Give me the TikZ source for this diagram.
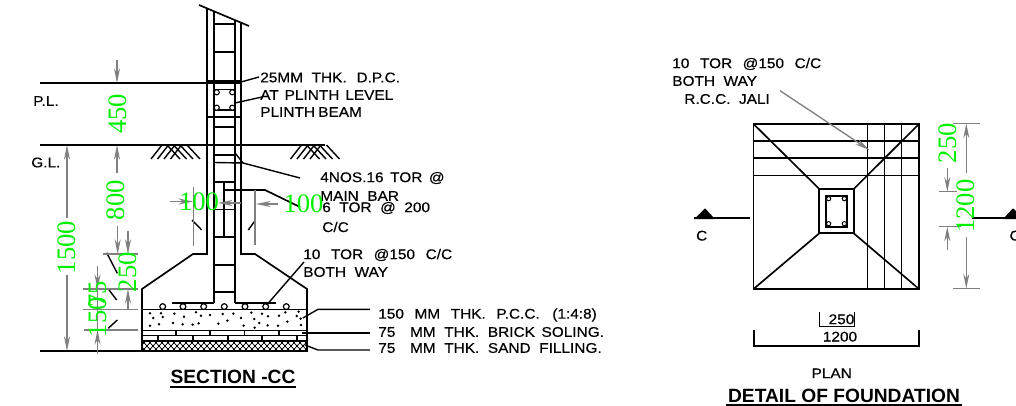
\documentclass[tikz,border=0pt]{standalone}
\usepackage{fontspec}
\setmainfont{Liberation Sans}
\newfontfamily\cadfont[WordSpace=2,FakeStretch=1.1,FakeBold=0.4]{Liberation Sans}
\newfontfamily\dimfont{Liberation Serif}
\usetikzlibrary{arrows.meta}
\definecolor{dimgrey}{HTML}{808080}
\definecolor{dimgreen}{HTML}{00F000}
\tikzset{
  obj/.style={line width=1.25pt,black,line join=miter},
  thin obj/.style={line width=1.05pt,black},
  dimline/.style={line width=1pt,dimgrey},
  dimarrow/.style={line width=1pt,dimgrey,-{Stealth[length=11pt,width=4.5pt]}},
  lab/.style={anchor=west,inner sep=0pt,font=\cadfont\fontsize{10.5}{12}\selectfont},
  plainlab/.style={anchor=center,inner sep=0pt,font=\cadfont\fontsize{10.5}{12}\selectfont},
  title/.style={anchor=center,inner sep=0pt,font=\bfseries\fontsize{14.4}{16}\selectfont},
  dimtxt/.style={anchor=center,inner sep=0pt,text=dimgreen,font=\dimfont\fontsize{20}{21}\selectfont},
}
\begin{document}
\begin{tikzpicture}[x=0.75pt,y=-0.75pt]
\clip (0,0) rectangle (1016,406);
\fill[white] (0,0) rectangle (1016,406);

% ---------- SECTION: levels ----------
\draw[obj] (40,83) -- (207,83);
\fill[black] (207,80) rectangle (241,84);
\draw[obj] (40,145) -- (325,145);
\draw[obj] (40,351) -- (142,351);

% ground hatch
\foreach \dx in {0,139.5}{
  \begin{scope}[xshift=\dx*0.75pt]
  \foreach \a in {162,168.5,175,181.5}
    \draw[thin obj] (\a,145) -- (\a-11,159);
  \foreach \a in {167,173.5,180,187}
    \draw[thin obj] (\a,145) -- (\a+13,159);
  \end{scope}
}

% wall
\draw[obj] (199,5) -- (249,26);
\draw[obj] (207,9) -- (207,254) -- (193,254) -- (142,289) -- (142,351) -- (307,351) -- (307,289) -- (255,254) -- (241,254) -- (241,23);
\draw[obj] (214,12) -- (214,302.5);
\draw[obj] (234.7,20) -- (234.7,302.5);
\foreach \y in {24,52,127,155,182,209.5,237,265,292}
  \draw[thin obj] (214,\y) -- (234.7,\y);
\draw[thin obj] (207,117) -- (241,117);

% plinth beam bars
\draw[thin obj] (214,89.5) -- (234.7,89.5);
\draw[thin obj] (214,110) -- (234.7,110);
\foreach \p in {(216.7,92.3),(232.3,92.3),(216.7,107.7),(232.3,107.7)}
  \draw[line width=0.8pt,fill=white] \p circle (2.6);

% footing layers
\draw[obj] (142,309.5) -- (307,309.5);
\draw[thin obj] (142,330.5) -- (307,330.5);
\draw[thin obj] (142,335.5) -- (307,335.5);
\draw[thin obj] (142,341) -- (307,341);
\foreach \x in {176,210,244.7,279}
  \draw[thin obj] (\x,330.5) -- (\x,335.5);
\foreach \x in {158,193,228,262,297}
  \draw[thin obj] (\x,335.5) -- (\x,341);

% sand filling
\begin{scope}
  \clip (142,341) rectangle (307,351);
  \foreach \i in {0,6,...,176}{
    \draw[line width=0.6pt] (135+\i,352.5) -- (135+\i+12,339.5);
    \draw[line width=0.6pt] (135+\i,339.5) -- (135+\i+12,352.5);
  }
\end{scope}
\draw[thin obj] (142,341) rectangle (307,351);

% P.C.C. aggregate
\foreach \X/\Y in {60/70,93/70,70/84,98/81,133/71,162/80,198/67,213/77,240/75,278/72,310/71,333/84,364/68,396/71,414/79,447/77,466/67,506/65,500/78,373/87,388/99,472/95,512/86,60/107,87/103,129/99,158/103,188/104,206/100,265/101,292/92,341/107,374/113,413/106,444/107,513/105}
  \fill ({130+\X/3},{290+\Y/3}) circle (1.4);

% main reinforcement
\draw[obj] (172,302.7) -- (214,302.7);
\draw[obj] (234.7,302.7) -- (276,302.7);
\foreach \x in {162.7,183,203.7,224.3,245,265.7,286.3}
  \draw[line width=0.9pt,fill=white] (\x,306.6) circle (2.9);

% stirrup bar in the footing column
\draw[obj] (224,182) -- (224,237);
\draw[obj] (224,190) -- (265,190) -- (300,207);

% black leaders
\draw[thin obj] (241,82) -- (259,77);
\draw[thin obj] (235,103) -- (262,97);
\draw[thin obj] (235,153) -- (243,163);
\draw[thin obj] (214,162.5) -- (243,163) -- (300,178);
\draw[thin obj] (304,262) -- (266.7,305);
\draw[thin obj] (370,309.3) -- (318,309.3) -- (303,318);
\draw[thin obj] (302,333) -- (370,333);
\draw[thin obj] (370,350) -- (318,350) -- (305,345);

% ticks on dimensions
\draw[thin obj] (106.7,252.7) -- (117.3,273.3);
\draw[thin obj] (108.3,289) -- (116.7,300);
\draw[thin obj] (117.3,320) -- (108.3,328.3);
\draw[thin obj] (192,220) -- (201.7,230);
\draw[thin obj] (248.3,230) -- (255,220.7);

% grey dimensions, section
\draw[dimarrow] (117,60) -- (117,83);
\draw[dimarrow] (117,173) -- (117,145);
\draw[dimarrow] (67,218) -- (67,145);
\draw[dimarrow] (67,275) -- (67,351);
\draw[dimline] (103,254) -- (138,254);
\draw[dimline] (83,289) -- (138,289);
\draw[dimline] (83,309.5) -- (138,309.5);
\draw[dimline] (84,330) -- (138,330);
\draw[dimarrow] (117.7,226) -- (117.7,254);
\draw[dimarrow] (128,231) -- (128,254);
\draw[dimarrow] (128,309) -- (128,289);
\draw[dimarrow] (97.5,266) -- (97.5,289);
\draw[dimarrow] (97.5,354) -- (97.5,330);
\draw[dimline] (97.5,289) -- (97.5,330);
\draw[dimline] (193.3,187) -- (193.3,246);
\draw[dimline] (255,190) -- (255,245);
\draw[dimarrow] (170,201.5) -- (193,201.5);
\draw[dimarrow] (241,203) -- (218,203);
\draw[dimarrow] (278,204) -- (256,204);

% labels, section
\node[lab] (pl) at (33,101) {P.L.};
\node[lab] (gl) at (31,162.5) {G.L.};
\node[lab] (dpc) at (260,77.5) {25MM THK.\hspace{1pt} D.P.C.};
\node[lab] (atpl) at (260,95) {AT\hspace{-2pt} PLINTH\hspace{-2pt} LEVEL};
\node[lab] (pbeam) at (260,112) {PLINTH\hspace{-4pt} BEAM};
\node[lab] (nos) at (320,178) {4NOS.16\hspace{-1.5pt} TOR\hspace{-1.5pt} @};
\node[lab] (mainb) at (320,196) {MAIN BAR};
\node[lab] (tor6) at (322,208) {6 TOR @ 200};
\node[lab] (cc6) at (322,227) {C/C};
\node[lab] (tor10) at (303,255) {10\hspace{1.5pt} TOR\hspace{1.5pt} @150\hspace{1.5pt} C/C};
\node[lab] (both) at (303,272) {BOTH WAY};
\node[lab] (pcc) at (378,315) {150\hspace{1.5pt} MM\hspace{1.5pt} THK.\hspace{1.5pt} P.C.C.\hspace{3pt} (1:4:8)};
\node[lab] (bsol) at (378,332) {75\hspace{11pt}MM THK. BRICK\hspace{-1.5pt} SOLING.};
\node[lab] (sand) at (378,348) {75\hspace{11pt}MM THK. SAND FILLING.};
\node[title] (secttl) at (233,377) {SECTION -CC};
\draw[line width=1.2pt] (170,387) -- (296,387);

% ---------- PLAN ----------
\draw[obj] (753.5,124) rectangle (919,289);
\foreach \y in {141,158,175.5}
  \draw[obj] (753.5,\y) -- (919,\y);
\foreach \x in {867.5,884.5,901.5}
  \draw[obj] (\x,124) -- (\x,289);
\draw[obj] (753.5,124) -- (819.3,189);
\draw[obj] (919,124) -- (853.7,189);
\draw[obj] (753.5,289) -- (819.3,233.3);
\draw[obj] (919,289) -- (853.7,233.3);
\draw[obj] (819.3,189) rectangle (853.7,233.3);
\draw[obj] (825.7,196) rectangle (847.3,226.7);
\foreach \p in {(828.7,198.7),(844.3,198.7),(828.7,223.7),(844.3,223.7)}
  \draw[line width=0.7pt,fill=white] \p circle (2.1);

% section marks
\fill (694.3,219) -- (705,208.3) -- (715,219) -- cycle;
\draw[obj] (694.3,218.3) -- (750,218.3);
\fill (1003,219) -- (1013,208.3) -- (1024,219) -- cycle;
\draw[obj] (971.7,218.3) -- (1024,218.3);
\node[plainlab] (cl) at (701.7,235.7) {C};
\node[plainlab] (cr) at (1015,235.7) {C};

% plan labels
\node[lab] (ptor) at (672,64) {10\hspace{1.5pt} TOR\hspace{1.5pt} @150\hspace{1.5pt} C/C};
\node[lab] (pboth) at (672,81) {BOTH WAY};
\node[lab] (pjali) at (684,99) {R.C.C. JALI};
\draw[dimarrow] (780,90.7) -- (869.3,150);

% grey dimensions, plan
\draw[dimline] (953,123.5) -- (980,123.5);
\draw[dimline] (953,288.5) -- (980,288.5);
\draw[dimarrow] (966.3,173) -- (966.3,123.5);
\draw[dimarrow] (966.3,236.7) -- (966.3,288.5);
\draw[dimline] (939,191.7) -- (957,191.7);
\draw[dimline] (939,226.7) -- (961,226.7);
\draw[dimarrow] (947.3,168) -- (947.3,191.7);
\draw[dimarrow] (947.3,250) -- (947.3,226.7);

% bottom dimension brackets
\draw[thin obj] (819.3,311.7) -- (819.3,326.7) -- (854.3,326.7) -- (854.3,311.7);
\draw[thin obj] (754,330) -- (754,346) -- (919,346) -- (919,330);
\node[plainlab] (d250) at (841.5,319.3) {250};
\node[plainlab] (d1200) at (840,336.7) {1200};
\node[plainlab] (plan) at (831.7,373.3) {PLAN};
\node[title] (detail) at (844,396) {DETAIL OF FOUNDATION};
\draw[line width=1.1pt] (726,405) -- (962,405);

% ---------- green dimension texts ----------
\node[dimtxt,rotate=90] (t450) at (118,114) {450};
\node[dimtxt,rotate=90] (t800) at (116,200) {800};
\node[dimtxt,rotate=90] (t1500) at (67,247.5) {1500};
\node[dimtxt,rotate=90] (t250a) at (128,272) {250};
\node[dimtxt,rotate=90] (t150) at (97.5,317) {150};
\node[dimtxt,rotate=90] (t75) at (97.5,294) {75};
\node[dimtxt] (t100a) at (199,202) {100};
\node[dimtxt] (t100b) at (303.5,204) {100};
\node[dimtxt,rotate=90] (t250b) at (948,143) {250};
\node[dimtxt,rotate=90] (t1200) at (966,206) {1200};
\end{tikzpicture}
\end{document}
